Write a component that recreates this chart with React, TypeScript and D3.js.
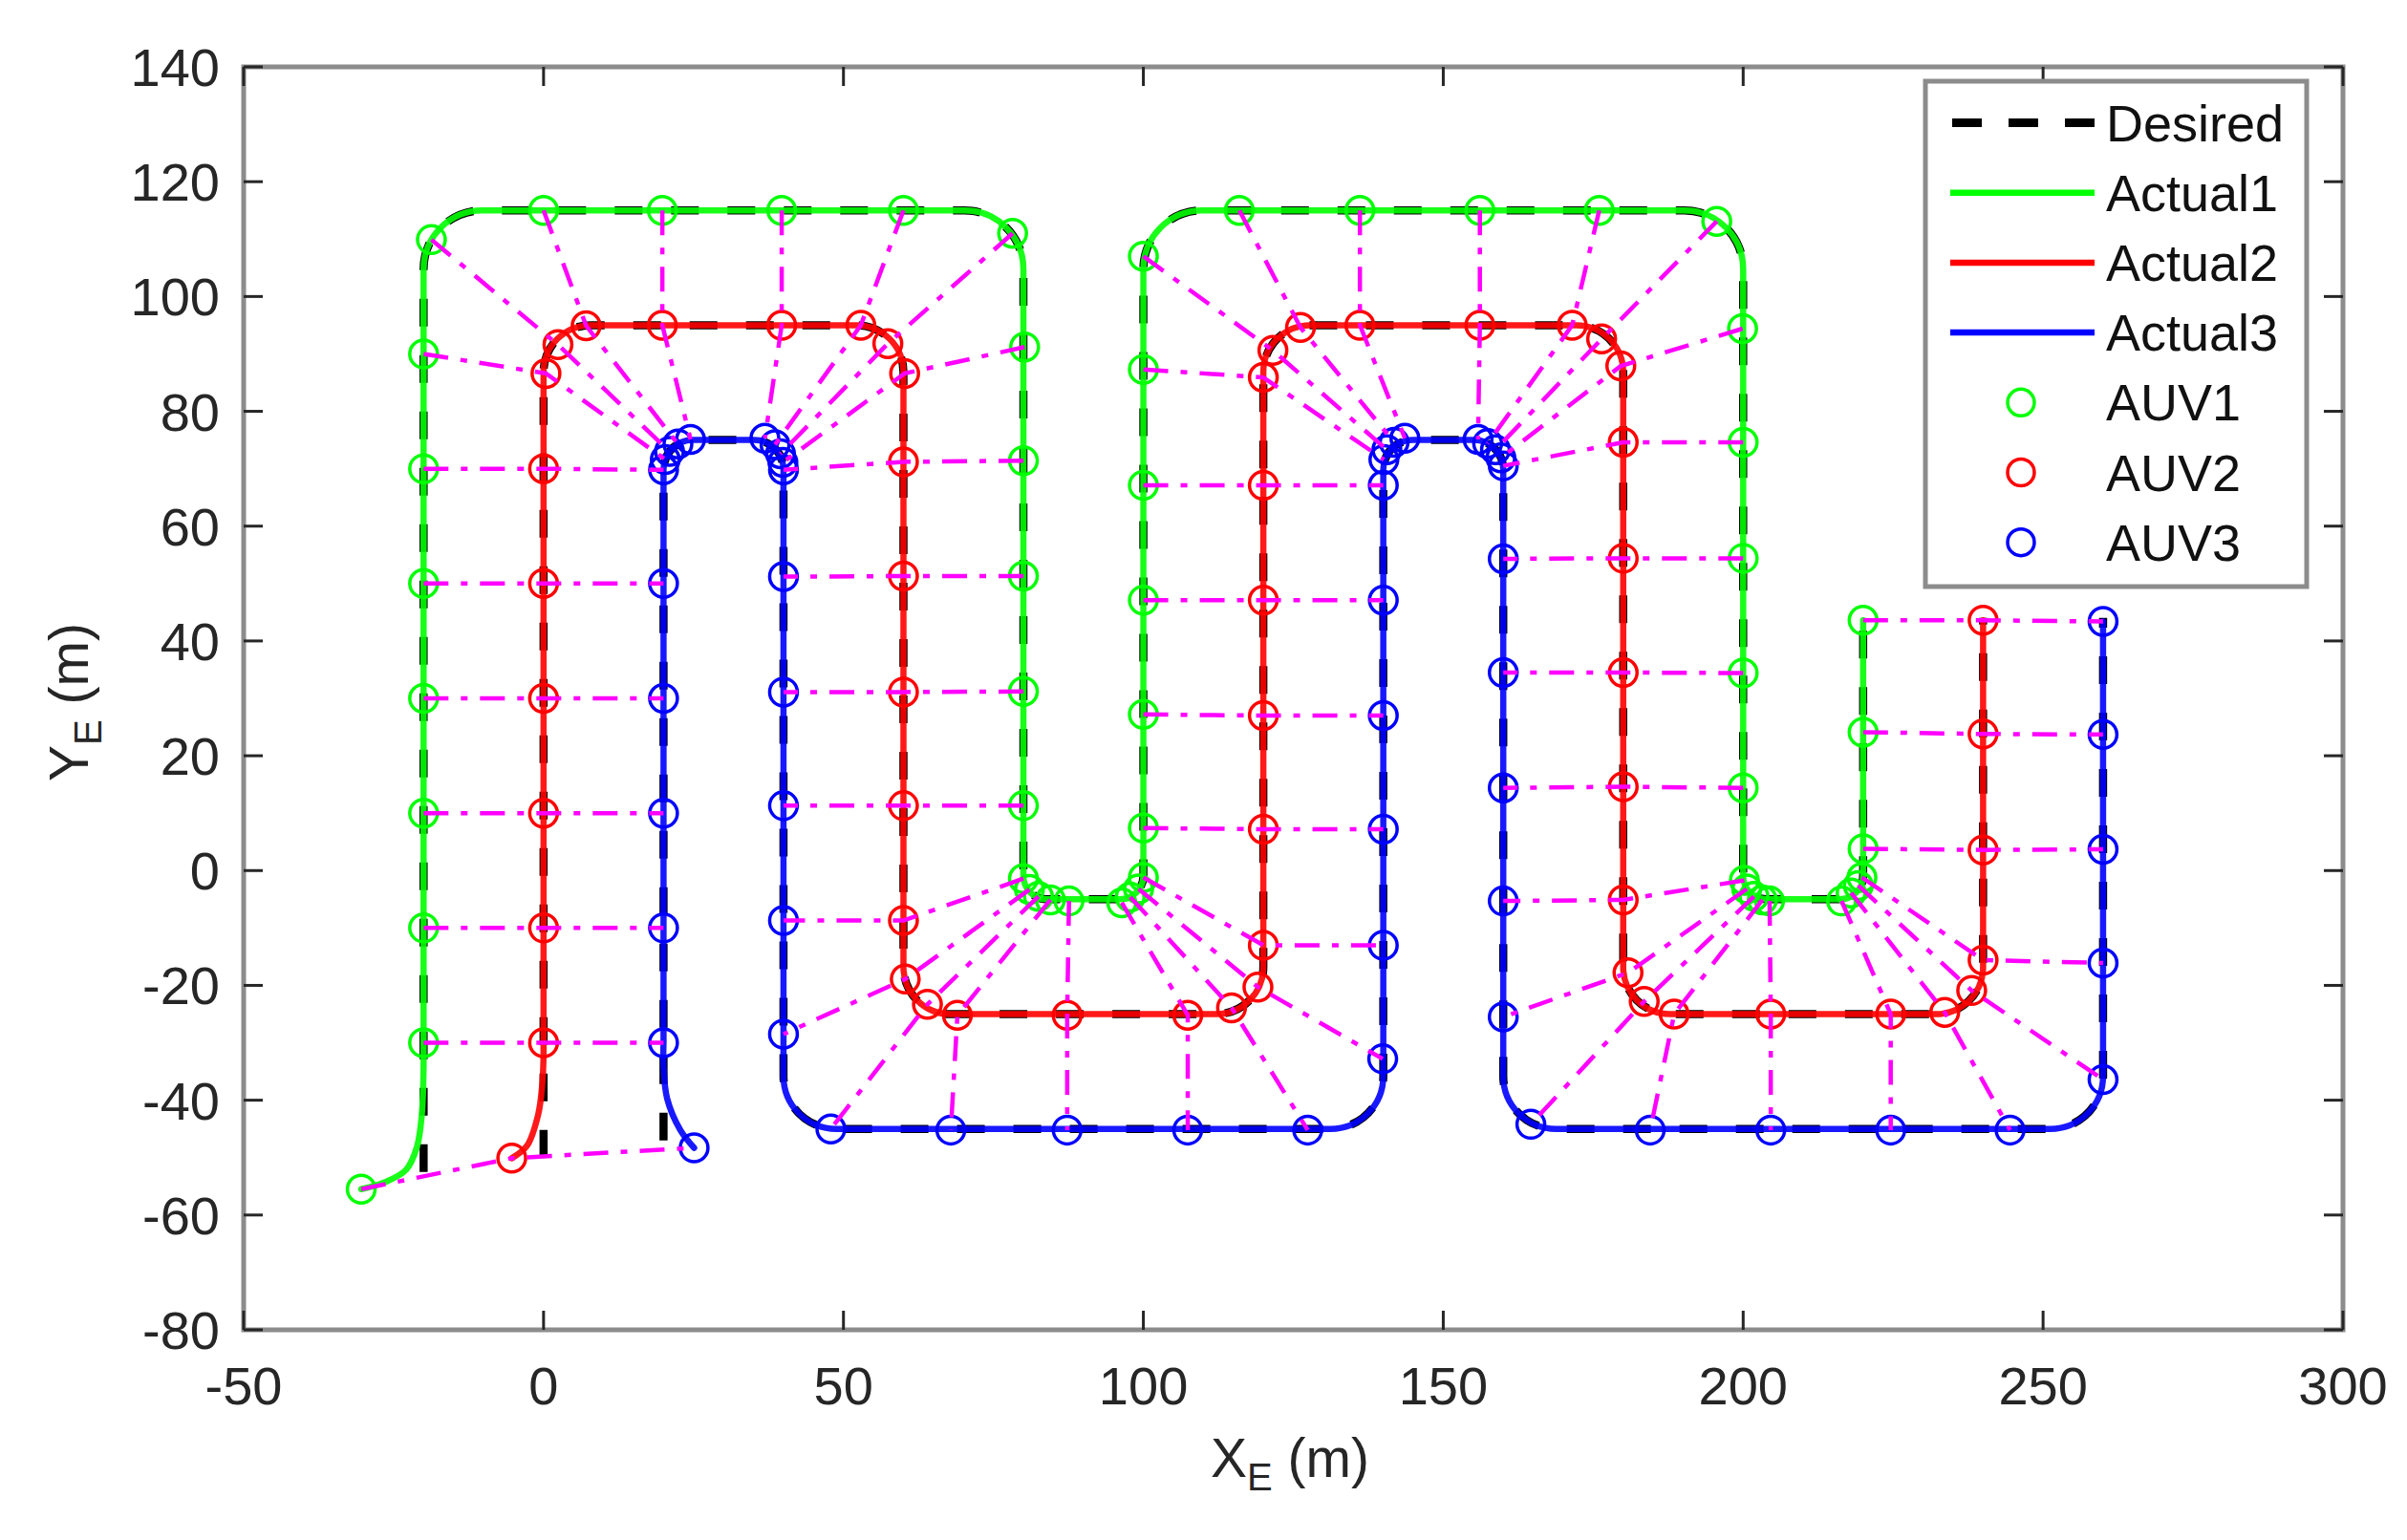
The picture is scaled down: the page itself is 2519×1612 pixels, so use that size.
import React from 'react';
import * as d3 from 'd3';

type P = [number, number];

// ---------- axes ----------
const xTicks = [-50, 0, 50, 100, 150, 200, 250, 300];
const yTicks = [-80, -60, -40, -20, 0, 20, 40, 60, 80, 100, 120, 140];

// ---------- desired paths (corner vertices) ----------
const desired1: P[] = [[-20, -52.5], [-20, 115], [80, 115], [80, -5], [100, -5], [100, 115], [200, 115], [200, -5], [220, -5], [220, 44]];
const desired2: P[] = [[0, -50], [0, 95], [60, 95], [60, -25], [120, -25], [120, 95], [180, 95], [180, -25], [240, -25], [240, 44]];
const desired3: P[] = [[20, -47], [20, 75], [40, 75], [40, -45], [140, -45], [140, 75], [160, 75], [160, -45], [260, -45], [260, 44]];
const cornerR1 = [10, 10, 4, 4, 10, 10, 4, 4];
const cornerR2 = [8, 8, 8, 8, 8, 8, 8, 8];
const cornerR3 = [5, 5, 9, 9, 5, 5, 9, 9];

// ---------- actual trajectories: initial transient ----------
const start1: P[] = [[-30.4, -55.5], [-26.5, -54.3], [-22.9, -52.1], [-21.1, -48.1], [-20.3, -42.5], [-20, -34]];
const start2: P[] = [[-5.3, -50.1], [-2.8, -48], [-0.9, -42.5], [-0.2, -37], [0, -32]];
const start3: P[] = [[25.1, -48.3], [22.8, -45.2], [20.6, -39.7], [20, -34], [20, -30]];

// ---------- sampled AUV positions ----------
const auv1: P[] = [
  [-30.4, -55.5], [-20, -30], [-20, -10], [-20, 10], [-20, 30], [-20, 50], [-20, 70], [-20, 90], [-18.7, 109.9], [0, 115],
  [19.8, 115], [39.7, 115], [60, 115], [78.2, 111], [80.2, 91.2], [80, 71.4], [80, 51.3], [80, 31.2], [80, 11.3], [80, -1.4],
  [81, -3.3], [82.5, -4.5], [84.5, -5.1], [87.6, -5.3], [96.4, -5.6], [97.8, -4.6], [99.2, -3.2], [100, -1.2], [100, 7.4], [100, 27.2],
  [100, 47.1], [100, 67.1], [100, 87.3], [100, 107], [116, 115], [136.1, 115], [156.1, 115], [176, 115], [195.6, 113.1], [199.9, 94.4],
  [200, 74.6], [200, 54.4], [200, 34.4], [200, 14.4], [200.2, -1.7], [200.6, -3.2], [201.8, -4.5], [203.2, -5.1], [204.4, -5.3], [216.4, -5.3],
  [218, -3.9], [219.2, -2.6], [219.8, -1.2], [220, 3.8], [220, 24.1], [220, 43.6],
];
const auv2: P[] = [
  [-5.3, -50.1], [0, -30], [0, -10], [0, 10], [0, 30], [0, 50], [0, 70], [0.4, 86.6], [2.4, 91.6], [7.1, 94.9],
  [19.8, 95], [39.7, 95], [52.9, 95], [57.4, 91.8], [60.2, 86.6], [60, 71.2], [60, 51.3], [60, 31.1], [60, 11.3], [60, -8.7],
  [60.3, -18.9], [64, -23.3], [69, -25.2], [87.3, -25.2], [107.4, -25.2], [114.7, -23.9], [119.1, -20.3], [120, -13], [120, 7.2], [120, 27],
  [120, 47.1], [120, 67.1], [120, 85.9], [121.6, 90.6], [126.2, 94.6], [136.1, 95], [156.1, 95], [171.5, 95], [176.4, 92.6], [179.6, 87.9],
  [180, 74.6], [180, 54.4], [180, 34.5], [180, 14.6], [180, -5.1], [180.8, -17.8], [183.5, -22.8], [188.5, -25], [204.6, -25], [224.6, -25],
  [233.6, -24.7], [238.1, -20.9], [240, -15.6], [240, 3.6], [240, 23.8], [240, 43.6],
];
const auv3: P[] = [
  [25.1, -48.3], [20, -30], [20, -10], [20, 10], [20, 30], [20, 50], [20, 69.8], [20.3, 71.6], [21, 73], [22.4, 74.3],
  [24.5, 75.1], [36.9, 75.3], [38.6, 74.2], [39.5, 72.6], [39.9, 71.1], [40, 69.8], [40, 51.2], [40, 31.1], [40, 11.3], [40, -8.7],
  [40, -28.5], [47.9, -45], [67.9, -45.2], [87.3, -45.2], [107.4, -45.2], [127.4, -45.2], [139.9, -32.8], [140, -13], [140, 7.2], [140, 27],
  [140, 47.1], [140, 67.1], [140.1, 71.6], [140.6, 73.3], [141.8, 74.6], [143.6, 75.3], [155.8, 75.1], [157.4, 74.4], [158.7, 73.3], [159.6, 71.9],
  [160, 70.5], [160, 54.3], [160, 34.5], [160, 14.4], [160, -5.3], [160, -25.5], [164.6, -44.2], [184.5, -45.2], [204.6, -45.2], [224.6, -45.2],
  [244.5, -45.2], [260, -36.4], [260, -16.1], [260, 3.7], [260, 23.7], [260, 43.4],
];

const legendLabels = ['Desired', 'Actual1', 'Actual2', 'Actual3', 'AUV1', 'AUV2', 'AUV3'];

const GREEN = '#00FF00';
const RED = '#FF0000';
const BLUE = '#0000FF';
const MAGENTA = '#FF00FF';
const FONT = '"Liberation Sans", Arial, Helvetica, sans-serif';

const W = 2519;
const H = 1612;
const L = 255, R = 2452, T = 70, B = 1392;

export default function App() {
  const x = d3.scaleLinear().domain([-50, 300]).range([L, R]);
  const y = d3.scaleLinear().domain([-80, 140]).range([B, T]);
  const k = ((x(1) - x(0)) + (y(0) - y(1))) / 2;

  const rounded = (pts: P[], radii: number[]) => {
    const p = d3.path();
    const Q = pts.map(([a, b]) => [x(a), y(b)]);
    p.moveTo(Q[0][0], Q[0][1]);
    for (let i = 1; i < Q.length - 1; i++) {
      p.arcTo(Q[i][0], Q[i][1], Q[i + 1][0], Q[i + 1][1], radii[i - 1] * k);
    }
    p.lineTo(Q[Q.length - 1][0], Q[Q.length - 1][1]);
    return p.toString();
  };

  const curve = d3.line<P>().x(d => x(d[0])).y(d => y(d[1])).curve(d3.curveCatmullRom);
  const straight = d3.line<P>().x(d => x(d[0])).y(d => y(d[1]));

  const actualPath = (start: P[], des: P[], radii: number[], last: P) => {
    const rest: P[] = [start[start.length - 1], ...des.slice(1, des.length - 1), last];
    return (curve(start) || '') + rounded(rest, radii);
  };

  const series = [
    { des: desired1, r: cornerR1, start: start1, pts: auv1, color: GREEN },
    { des: desired2, r: cornerR2, start: start2, pts: auv2, color: RED },
    { des: desired3, r: cornerR3, start: start3, pts: auv3, color: BLUE },
  ];

  const tickLen = 20;
  const legendY0 = 128.5;
  const legendStep = 73.2;

  return (
    <svg width={W} height={H} style={{ position: 'absolute', left: 0, top: 0, background: '#fff' }} fontFamily={FONT}>
      <rect x={0} y={0} width={W} height={H} fill="#fff" />
      {/* desired */}
      {series.map((s, i) => (
        <path key={'d' + i} d={rounded(s.des, s.r)} fill="none" stroke="#000" strokeWidth={8.5} strokeDasharray="29 30" />
      ))}
      {/* actual */}
      {series.map((s, i) => (
        <path key={'a' + i} d={actualPath(s.start, s.des, s.r, s.pts[s.pts.length - 1])} fill="none" stroke={s.color}
          strokeWidth={6.5} strokeOpacity={0.9} strokeLinejoin="round" strokeLinecap="round" />
      ))}
      {/* markers */}
      {series.map((s, i) => (
        <g key={'m' + i}>
          {s.pts.map((p, j) => (
            <circle key={j} cx={x(p[0])} cy={y(p[1])} r={14.5} fill="none" stroke={s.color} strokeWidth={3.5} />
          ))}
        </g>
      ))}
      {/* formation links */}
      {auv1.map((g, j) => (
        <path key={'f' + j} d={straight([g, auv2[j], auv3[j]]) || ''} fill="none" stroke={MAGENTA}
          strokeWidth={4.5} strokeDasharray="26 13 7 13" />
      ))}

      {/* axes box */}
      <rect x={L} y={T} width={R - L} height={B - T} fill="none" stroke="#8c8c8c" strokeWidth={5} />
      {xTicks.map(t => (
        <g key={'xt' + t}>
          <line x1={x(t)} x2={x(t)} y1={B} y2={B - tickLen} stroke="#262626" strokeWidth={3} />
          <line x1={x(t)} x2={x(t)} y1={T} y2={T + tickLen} stroke="#262626" strokeWidth={3} />
          <text x={x(t)} y={1470} textAnchor="middle" fontSize={56} fill="#262626">{t}</text>
        </g>
      ))}
      {yTicks.map(t => (
        <g key={'yt' + t}>
          <line x1={L} x2={L + tickLen} y1={y(t)} y2={y(t)} stroke="#262626" strokeWidth={3} />
          <line x1={R} x2={R - tickLen} y1={y(t)} y2={y(t)} stroke="#262626" strokeWidth={3} />
          <text x={230} y={y(t) + 20} textAnchor="end" fontSize={56} fill="#262626">{t}</text>
        </g>
      ))}
      {/* axis titles */}
      <text x={1350} y={1546} textAnchor="middle" fontSize={57} fill="#262626">
        X<tspan fontSize={40} dy={14}>E</tspan><tspan dy={-14}> (m)</tspan>
      </text>
      <text transform={`translate(92,735) rotate(-90)`} textAnchor="middle" fontSize={57} fill="#262626">
        Y<tspan fontSize={40} dy={14}>E</tspan><tspan dy={-14}> (m)</tspan>
      </text>

      {/* legend */}
      <rect x={2015} y={85} width={399} height={529} fill="#fff" stroke="#8c8c8c" strokeWidth={5} />
      {legendLabels.map((lab, i) => {
        const cy = legendY0 + i * legendStep;
        let sample: React.ReactNode = null;
        if (i === 0) {
          sample = <line x1={2043} x2={2192} y1={cy} y2={cy} stroke="#000" strokeWidth={9} strokeDasharray="31 28" />;
        } else if (i <= 3) {
          sample = <line x1={2041} x2={2192} y1={cy} y2={cy} stroke={series[i - 1].color} strokeWidth={6.5} />;
        } else {
          sample = <circle cx={2115} cy={cy} r={14} fill="none" stroke={series[i - 4].color} strokeWidth={3.5} />;
        }
        return (
          <g key={'l' + i}>
            {sample}
            <text x={2204} y={cy + 19} fontSize={54} fill="#111">{lab}</text>
          </g>
        );
      })}
    </svg>
  );
}
